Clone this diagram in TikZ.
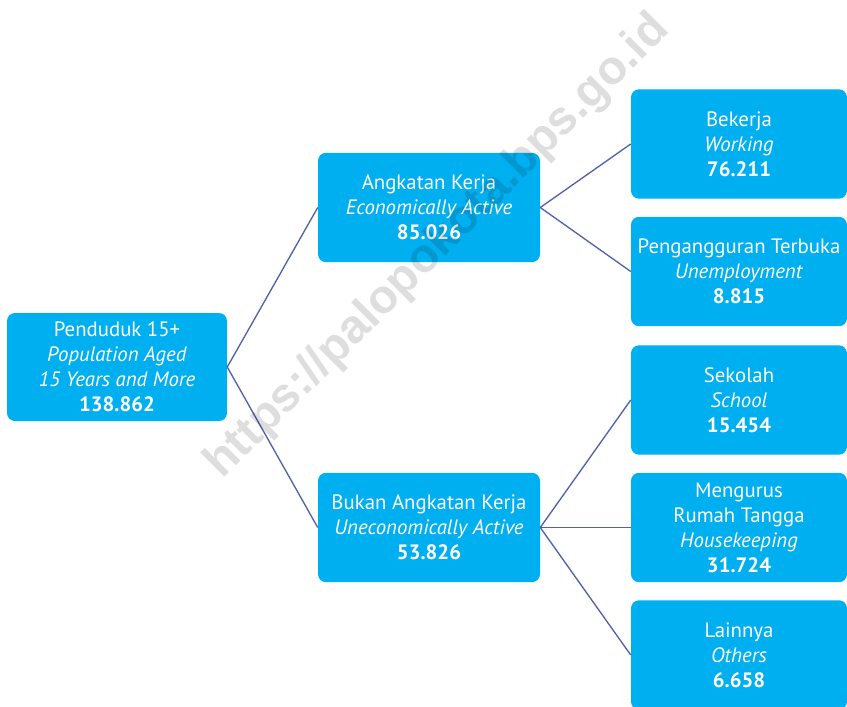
\documentclass[tikz,border=0pt]{standalone}
\usepackage{fontspec}
\setmainfont{PT Sans}
\newfontfamily\markfont{Liberation Sans}
\definecolor{boxblue}{RGB}{0,175,239}
\definecolor{linkblue}{RGB}{80,98,168}
\tikzset{
  font={\fontsize{15.6pt}{18.75pt}\selectfont}}

\begin{document}
\begin{tikzpicture}[x=0.75pt,y=-0.75pt]
\tikzstyle{every node}+=[inner sep=0pt]
\tikzstyle{box}=[fill=boxblue, rounded corners=6pt, text=white, align=center, minimum width=165pt, minimum height=81pt]
\tikzstyle{leaf}=[box, minimum width=162pt, minimum height=82pt]
\tikzstyle{link}=[draw=linkblue, line width=1pt]
\useasboundingbox (0,0) rectangle (847,707);
\node [box] (pop) at (117,367) {Penduduk 15+\\\textit{Population Aged}\\\textit{15 Years and More}\\\textbf{138.862}};
\node [box, minimum width=166.5pt, minimum height=82pt] (ak) at (429,207.5) {Angkatan Kerja\\\textit{Economically Active}\\\textbf{85.026}};
\node [box, minimum width=166.5pt, minimum height=82pt] (bak) at (429,527.5) {Bukan Angkatan Kerja\\\textit{Uneconomically Active}\\\textbf{53.826}};
\node [leaf] (kerja) at (739,144) {Bekerja\\\textit{Working}\\\textbf{76.211}};
\node [leaf] (nganggur) at (739,271.5) {Pengangguran Terbuka\\\textit{Unemployment}\\\textbf{8.815}};
\node [leaf] (sekolah) at (739,400) {Sekolah\\\textit{School}\\\textbf{15.454}};
\node [leaf] (rumah) at (739,527.5) {Mengurus\\Rumah Tangga\\\textit{Housekeeping}\\\textbf{31.724}};
\node [leaf] (lain) at (739,655) {Lainnya\\\textit{Others}\\\textbf{6.658}};
\draw [link] (pop.east) -- (ak.west);
\draw [link] (pop.east) -- (bak.west);
\draw [link] (ak.east) -- (kerja.west);
\draw [link] (ak.east) -- (nganggur.west);
\draw [link] (bak.east) -- (sekolah.west);
\draw [link] (bak.east) -- (rumah.west);
\draw [link] (bak.east) -- (lain.west);
% watermark
\node [rotate=45, text=black, text opacity=0.13, font={\markfont\bfseries\fontsize{35.5pt}{35.5pt}\selectfont}] (url) at (438,247) {https://palopokota.bps.go.id};
\end{tikzpicture}
\end{document}
